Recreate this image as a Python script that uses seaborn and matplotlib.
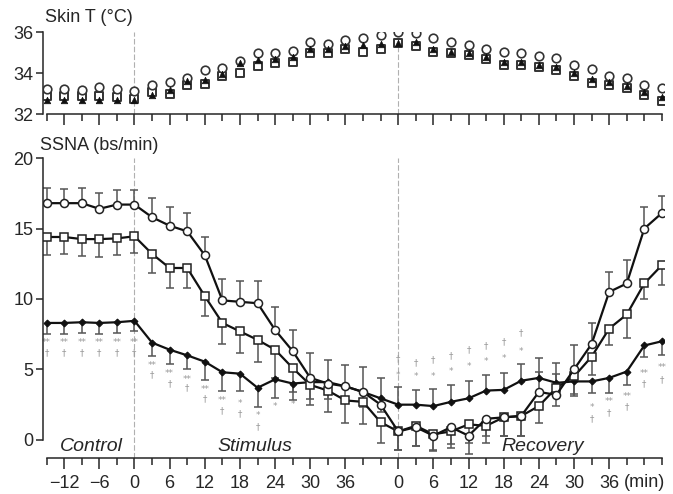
import matplotlib
matplotlib.use("Agg")
import matplotlib.pyplot as plt
import numpy as np
import seaborn as sns

# time points (min) of each phase
ctrl_t = [-15, -12, -9, -6, -3, 0]
stim_t = [3, 6, 9, 12, 15, 18, 21, 24, 27, 30, 33, 36, 39, 42]
rec_t = [0, 3, 6, 9, 12, 15, 18, 21, 24, 27, 30, 33, 36, 39, 42, 45]
REC_START = 45  # recovery 0 sits after stimulus 42 on the common axis

# skin temperature (deg C)
skin_circ = [33.21, 33.21, 33.18, 33.30, 33.21, 33.11,
             33.44, 33.57, 33.77, 34.15, 34.26, 34.60, 34.97, 35.00, 35.10, 35.50, 35.43, 35.60, 35.71, 35.87,
             35.99, 35.95, 35.71, 35.54, 35.38, 35.20, 35.05, 34.97, 34.84, 34.72, 34.39, 34.18, 33.85, 33.74, 33.41, 33.25]
skin_sq = [32.87, 32.87, 32.90, 32.90, 32.85, 32.75,
           33.08, 33.00, 33.41, 33.49, 33.85, 34.02, 34.36, 34.47, 34.56, 34.97, 34.97, 35.20, 35.05, 35.20,
           35.46, 35.30, 35.05, 34.97, 34.89, 34.67, 34.39, 34.39, 34.31, 34.15, 33.85, 33.52, 33.41, 33.25, 32.92, 32.62]
skin_tri = [32.67, 32.67, 32.70, 32.70, 32.67, 32.67,
            32.92, 33.16, 33.60, 33.65, 33.98, 34.47, 34.64, 34.67, 34.77, 35.20, 35.20, 35.33, 35.38, 35.43,
            35.49, 35.54, 35.20, 35.05, 34.97, 34.80, 34.56, 34.56, 34.39, 34.31, 34.02, 33.69, 33.57, 33.36, 33.08, 32.83]

# SSNA (bursts/min)
ssna_circ = [16.8, 16.8, 16.8, 16.4, 16.7, 16.7,
             15.8, 15.2, 14.8, 13.1, 9.9, 9.8, 9.7, 7.8, 6.3, 4.4, 4.0, 3.8, 3.4, 2.5,
             0.6, 0.9, 0.3, 0.9, 0.3, 1.5, 1.6, 1.7, 3.4, 3.2, 5.0, 6.8, 10.5, 11.1, 15.0, 16.1]
ssna_sq = [14.4, 14.4, 14.25, 14.25, 14.3, 14.45,
           13.2, 12.2, 12.2, 10.2, 8.3, 7.7, 7.1, 6.4, 5.1, 3.9, 3.5, 2.8, 2.7, 1.25,
           0.6, 1.0, 0.4, 0.6, 1.1, 1.0, 1.6, 1.7, 2.4, 3.7, 4.5, 5.9, 7.9, 8.9, 11.1, 12.4]
ssna_fill = [8.3, 8.3, 8.35, 8.3, 8.35, 8.45,
             6.9, 6.4, 6.0, 5.55, 4.8, 4.7, 3.7, 4.3, 4.0, 4.1, 4.1, 3.8, 3.4, 2.95,
             2.5, 2.5, 2.4, 2.7, 2.95, 3.5, 3.55, 4.2, 4.4, 4.05, 4.15, 4.15, 4.4, 4.85, 6.7, 7.0]

# SE bars (positive = drawn upward, negative = drawn downward)
err_circ = [1.05, 1.0, 1.05, 1.1, 1.0, 1.05,
            1.35, 1.35, 1.3, 1.3, 1.55, 1.5, 1.6, 1.6, 1.5, 1.8, 1.7, 1.55, 1.8, 1.9,
            -1.3, -1.3, -1.0, -1.2, -1.3, -1.2, -1.3, -1.4, 1.4, 1.5, 1.7, 1.5, 1.4, 1.65, 1.5, 1.2]
err_sq = [-1.25, -1.2, -1.2, -1.25, -1.2, -1.2,
          -1.35, -1.4, -1.4, -1.4, -1.5, -1.5, -1.55, -2.0, -1.7, -1.45, -1.5, -1.6, -1.6, -1.5,
          -1.3, -1.4, -1.2, -1.2, -1.3, -1.2, -1.3, -1.4, -1.2, -1.3, -1.4, -1.3, -1.2, -1.65, -1.1, -1.4]
err_fill = [-0.75, -0.75, -0.75, -0.75, -0.75, -0.75,
            -0.95, -1.0, -1.0, -1.3, -1.35, -1.2, -1.35, -1.3, -1.2, -1.2, -1.2, -1.1, -1.1, -1.0,
            1.25, 1.05, 1.2, 1.2, 1.2, 1.1, 1.2, 1.2, 1.4, 1.4, -0.9, -0.8, -1.1, -0.95, -0.8, -1.0]

# significance symbols (grey) : time on the common axis, value, symbol
sig_t = [-15, -12, -9, -6, -3, 0, -15, -12, -9, -6, -3, 0,
         3, 3, 6, 6, 9, 9, 12, 12, 15, 15, 18, 18, 21, 21, 24, 27,
         45, 45, 48, 48, 51, 51, 54, 54, 57, 57, 60, 60, 63, 63, 66, 66,
         78, 78, 81, 81, 84, 84, 87, 87, 90, 90]
sig_y = [6.9, 6.9, 6.9, 6.9, 6.9, 6.9, 6.2, 6.2, 6.2, 6.2, 6.2, 6.2,
         5.25, 4.6, 4.7, 4.0, 4.3, 3.7, 3.6, 2.9, 2.8, 2.1, 2.6, 1.85, 1.7, 0.95, 2.4, 2.5,
         5.75, 4.6, 5.45, 4.5, 5.7, 4.5, 6.0, 4.85, 6.4, 5.2, 6.7, 5.55, 7.0, 5.8, 7.6, 6.3,
         2.3, 1.5, 2.7, 1.95, 3.1, 2.35, 4.7, 3.95, 5.15, 4.3]
sig_sym = ["**"] * 6 + ["\u2020"] * 6 + \
          ["**", "\u2020", "**", "\u2020", "**", "\u2020", "**", "\u2020", "**", "\u2020",
           "*", "\u2020", "*", "\u2020", "*", "*"] + \
          ["\u2020", "*"] * 8 + \
          ["*", "\u2020", "**", "\u2020", "**", "\u2020", "**", "\u2020", "**", "\u2020"]

major_pos = [-12, -6, 0, 6, 12, 18, 24, 30, 36, 45, 51, 57, 63, 69, 75, 81]
major_lab = ["\u221212", "\u22126", "0", "6", "12", "18", "24", "30", "36",
             "0", "6", "12", "18", "24", "30", "36"]
minor_pos = [-15, -9, -3, 3, 9, 15, 21, 27, 33, 39, 42, 48, 54, 60, 66, 72, 78, 84, 87, 90]

sns.set_theme(style="ticks")
plt.rcParams["font.family"] = ["Liberation Sans", "DejaVu Sans"]

x = np.array(ctrl_t + stim_t + [t + REC_START for t in rec_t], dtype=float)

fig = plt.figure(figsize=(6.73, 4.94), dpi=100)
ax_t = fig.add_axes([0.064, 0.769, 0.923, 0.166])
ax = fig.add_axes([0.064, 0.073, 0.923, 0.607])

for a in (ax_t, ax):
    a.set_xlim(-15.6, 90.4)
    sns.despine(ax=a)
    a.spines["left"].set_linewidth(1.1)
    a.spines["bottom"].set_linewidth(1.1)
    a.spines["bottom"].set_bounds(-15, 90)
    a.set_xticks(major_pos)
    a.set_xticks(minor_pos, minor=True)
    a.tick_params(axis="x", which="major", direction="out", length=8, width=1.1)
    a.tick_params(axis="x", which="minor", direction="out", length=5, width=1.1)
    a.tick_params(axis="y", direction="out", length=5, width=1.1, labelsize=13, pad=2)
    a.axvline(0, color="#b0b0b0", lw=0.8, ls=(0, (5, 2)), zorder=0)
    a.axvline(REC_START, color="#b0b0b0", lw=0.8, ls=(0, (5, 2)), zorder=0)
    a.set_xlabel("")
    a.set_ylabel("")

# top panel: skin temperature
ax_t.set_ylim(32, 36)
ax_t.set_yticks([32, 34, 36])
ax_t.spines["left"].set_bounds(32, 36)
ax_t.set_xticklabels([])
sns.scatterplot(x=x, y=skin_sq, ax=ax_t, marker="s", s=38, color="white",
                edgecolor="#333333", linewidth=1.4, zorder=3)
sns.scatterplot(x=x, y=skin_circ, ax=ax_t, marker="o", s=38, color="white",
                edgecolor="#333333", linewidth=1.2, zorder=4)
sns.scatterplot(x=x, y=skin_tri, ax=ax_t, marker="^", s=22, color="#111111",
                edgecolor="#111111", linewidth=0.5, zorder=5)
ax_t.set_ylim(32, 36)

# bottom panel: SSNA
ax.set_ylim(-1.28, 20)
ax.set_yticks([0, 5, 10, 15, 20])
ax.spines["left"].set_bounds(0, 20)
ax.set_xticklabels(major_lab)
ax.tick_params(axis="x", which="major", labelsize=13, pad=4)

for vals, errs in [(ssna_circ, err_circ), (ssna_sq, err_sq), (ssna_fill, err_fill)]:
    v = np.array(vals)
    e = np.array(errs)
    ax.vlines(x, v, v + e, color="#555555", lw=1.1, zorder=2)
    ax.plot(x, v + e, ls="none", marker="_", ms=6, mew=1.1, color="#555555", zorder=2)

sns.lineplot(x=x, y=ssna_fill, ax=ax, color="#111111", lw=1.6, marker="D", markersize=3.5,
             markeredgecolor="#111111", markerfacecolor="#111111", errorbar=None, zorder=3)
sns.lineplot(x=x, y=ssna_sq, ax=ax, color="#111111", lw=1.6, marker="s", markersize=5.8,
             markeredgecolor="#222222", markerfacecolor="white", markeredgewidth=1.1,
             errorbar=None, zorder=4)
sns.lineplot(x=x, y=ssna_circ, ax=ax, color="#111111", lw=1.6, marker="o", markersize=5.8,
             markeredgecolor="#222222", markerfacecolor="white", markeredgewidth=1.1,
             errorbar=None, zorder=5)

for t, yv, s in zip(sig_t, sig_y, sig_sym):
    ax.text(t, yv, s, color="#999999", fontsize=6.3, ha="center", va="center",
            family=["DejaVu Sans"], zorder=1)

ax.set_ylim(-1.28, 20)
ax.set_xlim(-15.6, 90.4)
ax_t.set_xlim(-15.6, 90.4)

ax.text(-7.3, -0.45, "Control", fontsize=14, style="italic", ha="center", va="center")
ax.text(20.5, -0.45, "Stimulus", fontsize=14, style="italic", ha="center", va="center")
ax.text(69.7, -0.45, "Recovery", fontsize=14, style="italic", ha="center", va="center")
ax.text(87, -3.0, "(min)", fontsize=13, ha="center", va="center")

fig.text(45 / 673, 1 - 18 / 494, "Skin T (\u00b0C)", fontsize=13, ha="left", va="center")
fig.text(40 / 673, 1 - 146 / 494, "SSNA (bs/min)", fontsize=13, ha="left", va="center")

fig.savefig("out.png", dpi=100)
